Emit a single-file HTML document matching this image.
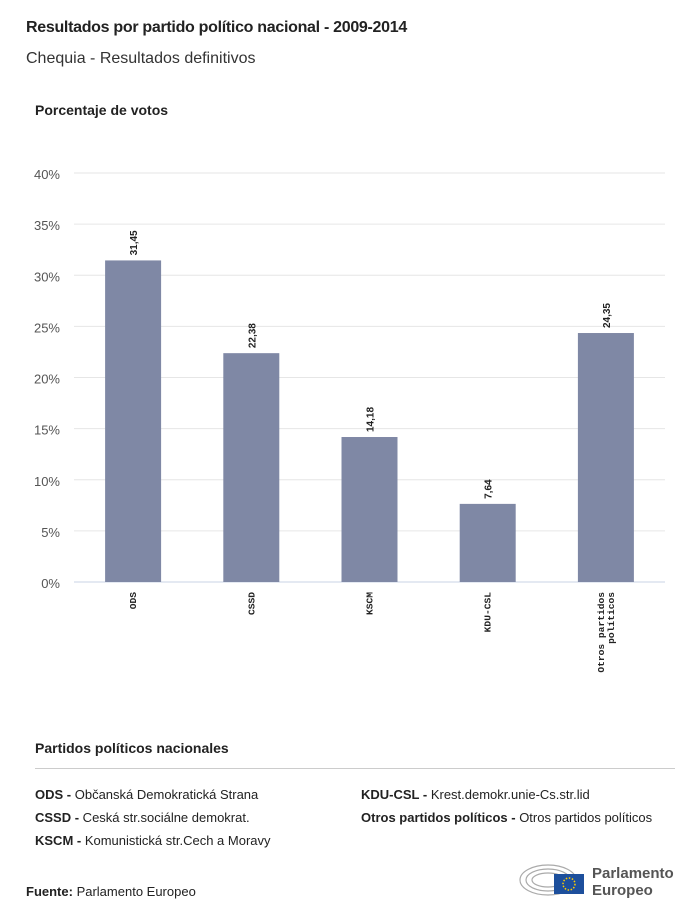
<!DOCTYPE html>
<html><head><meta charset="utf-8"><style>
body{margin:0;width:700px;height:918px;background:#fff;font-family:"Liberation Sans",sans-serif;color:#222;position:relative;overflow:hidden}
.a{position:absolute;white-space:nowrap}
</style></head><body>
<div class="a" style="left:26px;top:19px;font-size:16px;font-weight:bold;letter-spacing:-0.3px">Resultados por partido político nacional - 2009-2014</div>
<div class="a" style="left:26px;top:50px;font-size:16px;color:#333">Chequia - Resultados definitivos</div>
<div class="a" style="left:35px;top:102px;font-size:14px;font-weight:bold">Porcentaje de votos</div>
<svg id="chart" width="700" height="700" style="position:absolute;left:0;top:0"></svg>
<div class="a" style="left:35px;top:740px;font-size:14px;font-weight:bold">Partidos políticos nacionales</div>
<div class="a" style="left:35px;top:768px;width:640px;height:1px;background:#ccc"></div>
<div class="a" style="left:35px;top:787px;font-size:13px"><b>ODS -</b> Občanská Demokratická Strana</div>
<div class="a" style="left:35px;top:810px;font-size:13px"><b>CSSD -</b> Ceská str.sociálne demokrat.</div>
<div class="a" style="left:35px;top:833px;font-size:13px"><b>KSCM -</b> Komunistická str.Cech a Moravy</div>
<div class="a" style="left:361px;top:787px;font-size:13px"><b>KDU-CSL -</b> Krest.demokr.unie-Cs.str.lid</div>
<div class="a" style="left:361px;top:810px;font-size:13px"><b>Otros partidos políticos -</b> Otros partidos políticos</div>
<div class="a" style="left:26px;top:884px;font-size:13px"><b>Fuente:</b> Parlamento Europeo</div>
<svg class="a" style="left:518px;top:858px" width="70" height="40">
<g fill="none" stroke="#aaa" stroke-width="1.2"><ellipse cx="30" cy="22" rx="28" ry="15"/><ellipse cx="30" cy="22" rx="22" ry="11"/><ellipse cx="30" cy="22" rx="16" ry="7"/></g>
<rect x="36" y="16" width="30" height="20" fill="#1d4f9c"/><circle cx="51" cy="26" r="6" fill="none" stroke="#fc0" stroke-width="1.5" stroke-dasharray="1.5 1.6"/></svg>
<div class="a" style="left:592px;top:865px;font-size:15px;font-weight:bold;color:#555;line-height:17px">Parlamento<br>Europeo</div>
<script>
const categories=["ODS","CSSD","KSCM","KDU-CSL","Otros partidos políticos"];
const values=[31.45,22.38,14.18,7.64,24.35];
const valueLabels=["31,45","22,38","14,18","7,64","24,35"];
const yTicks=[0,5,10,15,20,25,30,35,40];
const svg=document.getElementById('chart');const NS="http://www.w3.org/2000/svg";
const x0=74,x1=665,y0=582,y1=173,yMax=40;
const y=v=>y0-(v/yMax)*(y0-y1);
const bw=(x1-x0)/categories.length;
const xc=i=>x0+bw*(i+0.5);
function mk(t,a){const e=document.createElementNS(NS,t);for(const k in a)e.setAttribute(k,a[k]);svg.appendChild(e);return e;}
yTicks.forEach(t=>{
 const l=mk('line',{x1:x0,x2:x1,y1:y(t),y2:y(t),stroke:t===0?'#c8d3e6':'#e6e6e6','stroke-width':1});
 
 const tx=mk('text',{x:60,y:y(t)+6,'text-anchor':'end','font-size':13,fill:'#555','font-family':'Liberation Sans,sans-serif'});
 tx.textContent=t+'%';
 
});
categories.forEach((c,i)=>{
 const r=mk('rect',{x:xc(i)-28,y:y(values[i]),width:56,height:y0-y(values[i]),fill:'#7f88a5'});
 
 const vx=xc(i)+4,vy=y(values[i])-5;
 const v=mk('text',{x:vx,y:vy,transform:`rotate(-90 ${vx} ${vy})`,'font-size':10,'font-weight':'bold',fill:'#222','font-family':'Liberation Sans,sans-serif'});
 v.textContent=valueLabels[i];
 
 const parts=c==="Otros partidos políticos"?["Otros partidos","políticos"]:[c];
 parts.forEach((p,j)=>{
  const lx=xc(i)+3+(j-(parts.length-1)/2)*10,ly=592;
  const t=mk('text',{x:lx,y:ly,transform:`rotate(-90 ${lx} ${ly})`,'text-anchor':'end','font-size':9.6,fill:'#222','font-family':'Liberation Mono,monospace','font-weight':'bold'});
  t.textContent=p;
  
 });
});
</script>
</body></html>
